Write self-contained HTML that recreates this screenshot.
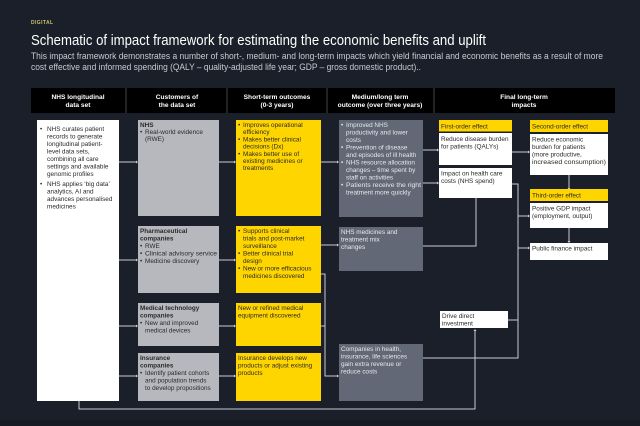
<!DOCTYPE html>
<html><head><meta charset="utf-8"><style>
html,body{margin:0;padding:0;background:#1b1f29;}
svg{display:block;font-family:"Liberation Sans",sans-serif;}
.b{font-size:6.4px;fill:#2a2a2a;}
.w{font-size:6.4px;fill:#e6e8ec;}
.h{font-size:6.6px;fill:#fff;font-weight:bold;text-anchor:middle;}
.bb{font-weight:bold;}
</style></head><body>
<svg width="640" height="426" viewBox="0 0 640 426" xmlns="http://www.w3.org/2000/svg">
<rect width="640" height="426" fill="#1b1f29"/>
<rect x="0" y="420" width="640" height="6" fill="#161a23"/>
<text x="31" y="24" font-size="5" fill="#c9c06a" font-weight="bold" letter-spacing="0.4">DIGITAL</text>
<text x="31" y="45" font-size="15" fill="#fff" textLength="455" lengthAdjust="spacingAndGlyphs">Schematic of impact framework for estimating the economic benefits and uplift</text>
<text x="31" y="59" font-size="9" fill="#c8cad0" textLength="572" lengthAdjust="spacingAndGlyphs">This impact framework demonstrates a number of short-, medium- and long-term impacts which yield financial and economic benefits as a result of more</text>
<text x="31" y="70" font-size="9" fill="#c8cad0" textLength="390" lengthAdjust="spacingAndGlyphs">cost effective and informed spending (QALY – quality-adjusted life year; GDP – gross domestic product)..</text>

<!-- header -->
<rect x="31" y="88" width="584" height="25" fill="#000"/>
<g stroke="#555" stroke-width="0.8"><line x1="126" y1="88" x2="126" y2="113"/><line x1="227" y1="88" x2="227" y2="113"/><line x1="327" y1="88" x2="327" y2="113"/><line x1="434" y1="88" x2="434" y2="113"/></g>
<text class="h" x="78" y="99">NHS longitudinal</text><text class="h" x="78" y="107">data set</text>
<text class="h" x="177" y="99">Customers of</text><text class="h" x="177" y="107">the data set</text>
<text class="h" x="277" y="99">Short-term outcomes</text><text class="h" x="277" y="107">(0-3 years)</text>
<text class="h" x="380" y="99">Medium/long term</text><text class="h" x="380" y="107">outcome (over three years)</text>
<text class="h" x="524" y="99">Final long-term</text><text class="h" x="524" y="107">impacts</text>

<!-- connectors -->
<g stroke="#c8cbd2" stroke-width="1" fill="none">
<line x1="119" y1="162" x2="136" y2="162"/><line x1="119" y1="260" x2="136" y2="260"/><line x1="119" y1="326" x2="136" y2="326"/><line x1="119" y1="376" x2="136" y2="376"/>
<line x1="219" y1="162" x2="234" y2="162"/><line x1="219" y1="260" x2="234" y2="260"/><line x1="219" y1="326" x2="234" y2="326"/><line x1="219" y1="376" x2="234" y2="376"/>
<line x1="320" y1="162" x2="337" y2="162"/><line x1="320" y1="245" x2="337" y2="245"/>
<polyline points="320,274 325,274 325,376 337,376"/><line x1="320" y1="326" x2="325" y2="326"/>
<line x1="423" y1="150" x2="437" y2="150"/><line x1="423" y1="183" x2="437" y2="183"/>
<polyline points="423,246 476,246 476,198"/>
<line x1="512" y1="152" x2="528" y2="152"/>
<line x1="569" y1="175" x2="569" y2="188"/><line x1="569" y1="228" x2="569" y2="241"/>
<polyline points="512,184 518,184 518,358 423,358"/>
<line x1="518" y1="216" x2="528" y2="216"/><line x1="518" y1="248" x2="528" y2="248"/><line x1="508" y1="320" x2="518" y2="320"/>
<polyline points="79,401 79,409 475,409 475,331"/>
</g>
<g fill="#c8cbd2">
<path d="M136,160.5 l2,1.5 l-2,1.5z M136,258.5 l2,1.5 l-2,1.5z M136,324.5 l2,1.5 l-2,1.5z M136,374.5 l2,1.5 l-2,1.5z"/>
<path d="M234,160.5 l2,1.5 l-2,1.5z M234,258.5 l2,1.5 l-2,1.5z M234,324.5 l2,1.5 l-2,1.5z M234,374.5 l2,1.5 l-2,1.5z"/>
<path d="M337,160.5 l2,1.5 l-2,1.5z M337,243.5 l2,1.5 l-2,1.5z M337,374.5 l2,1.5 l-2,1.5z"/>
<path d="M437,148.5 l2,1.5 l-2,1.5z M437,181.5 l2,1.5 l-2,1.5z M528,150.5 l2,1.5 l-2,1.5z M528,214.5 l2,1.5 l-2,1.5z M528,246.5 l2,1.5 l-2,1.5z"/>
<path d="M567.5,188 l1.5,2 l1.5,-2z M567.5,241 l1.5,2 l1.5,-2z M473.5,331 l1.5,-2 l1.5,2z"/>
</g>

<!-- column 1 -->
<rect x="37" y="120" width="82" height="281" fill="#fff"/>
<g class="b">
<text x="40" y="131">•</text><text x="47" y="131">NHS curates patient</text>
<text x="47" y="138.5">records to generate</text><text x="47" y="146">longitudinal patient-</text>
<text x="47" y="153.5">level data sets,</text><text x="47" y="161">combining all care</text>
<text x="47" y="168.5">settings and available</text><text x="47" y="176">genomic profiles</text>
<text x="40" y="186">•</text><text x="47" y="186">NHS applies ‘big data’</text>
<text x="47" y="193.5">analytics, AI and</text><text x="47" y="201">advances personalised</text><text x="47" y="208.5">medicines</text>
</g>

<!-- column 2 -->
<g fill="#b6b8bd"><rect x="138" y="120" width="81" height="96"/><rect x="138" y="226" width="81" height="67"/><rect x="138" y="303" width="81" height="43"/><rect x="138" y="353" width="81" height="48"/></g>
<g class="b">
<text x="140" y="127" class="bb">NHS</text><text x="140" y="134">•</text><text x="145" y="134">Real-world evidence</text><text x="145" y="141">(RWE)</text>
<text x="140" y="233" class="bb">Pharmaceutical</text><text x="140" y="240.5" class="bb">companies</text>
<text x="140" y="248">•</text><text x="145" y="248">RWE</text><text x="140" y="255.5">•</text><text x="145" y="255.5" textLength="72" lengthAdjust="spacingAndGlyphs">Clinical advisory service</text><text x="140" y="263">•</text><text x="145" y="263">Medicine discovery</text>
<text x="140" y="310" class="bb">Medical technology</text><text x="140" y="317.5" class="bb">companies</text>
<text x="140" y="325">•</text><text x="145" y="325">New and improved</text><text x="145" y="332.5">medical devices</text>
<text x="140" y="360" class="bb">Insurance</text><text x="140" y="367.5" class="bb">companies</text>
<text x="140" y="375">•</text><text x="145" y="375">Identify patient cohorts</text><text x="145" y="382.5">and population trends</text><text x="145" y="390">to develop propositions</text>
</g>

<!-- column 3 -->
<g fill="#ffd500"><rect x="236" y="120" width="85" height="96"/><rect x="236" y="226" width="85" height="67"/><rect x="236" y="303" width="85" height="43"/><rect x="236" y="353" width="85" height="48"/></g>
<g class="b">
<text x="238" y="127">•</text><text x="243" y="127">Improves operational</text><text x="243" y="134">efficiency</text>
<text x="238" y="141.5">•</text><text x="243" y="141.5">Makes better clinical</text><text x="243" y="148.5">decisions (Dx)</text>
<text x="238" y="156">•</text><text x="243" y="156">Makes better use of</text><text x="243" y="163">existing medicines or</text><text x="243" y="170">treatments</text>
<text x="238" y="233">•</text><text x="243" y="233">Supports clinical</text><text x="243" y="240.5">trials and post-market</text><text x="243" y="248">surveillance</text>
<text x="238" y="255.5">•</text><text x="243" y="255.5">Better clinical trial</text><text x="243" y="263">design</text>
<text x="238" y="270.5">•</text><text x="243" y="270.5">New or more efficacious</text><text x="243" y="278">medicines discovered</text>
<text x="238" y="310">New or refined medical</text><text x="238" y="317.5">equipment discovered</text>
<text x="238" y="360">Insurance develops new</text><text x="238" y="367.5">products or adjust existing</text><text x="238" y="375">products</text>
</g>

<!-- column 4 -->
<g fill="#626875"><rect x="339" y="120" width="84" height="97"/><rect x="339" y="227" width="84" height="44"/><rect x="339" y="344" width="84" height="57"/></g>
<g class="w">
<text x="341" y="127">•</text><text x="346" y="127">Improved NHS</text><text x="346" y="134.5">productivity and lower</text><text x="346" y="142">costs</text>
<text x="341" y="149.5">•</text><text x="346" y="149.5">Prevention of disease</text><text x="346" y="157">and episodes of ill health</text>
<text x="341" y="164.5">•</text><text x="346" y="164.5">NHS resource allocation</text><text x="346" y="172">changes – time spent by</text><text x="346" y="179.5">staff on activities</text>
<text x="341" y="187">•</text><text x="346" y="187" textLength="75" lengthAdjust="spacingAndGlyphs">Patients receive the right</text><text x="346" y="194.5">treatment more quickly</text>
<text x="341" y="234">NHS medicines and</text><text x="341" y="241.5">treatment mix</text><text x="341" y="249">changes</text>
<text x="341" y="351">Companies in health,</text><text x="341" y="358.5">insurance, life sciences</text><text x="341" y="366">gain extra revenue or</text><text x="341" y="373.5">reduce costs</text>
</g>

<!-- final -->
<g fill="#ffd500"><rect x="439" y="120" width="73" height="11.5"/><rect x="530" y="120" width="78" height="12"/><rect x="530" y="189" width="78" height="12"/></g>
<g fill="#fff"><rect x="439" y="133" width="73" height="32"/><rect x="439" y="168" width="73" height="30"/><rect x="530" y="134" width="78" height="41"/><rect x="530" y="203" width="78" height="25"/><rect x="530" y="243" width="78" height="17"/><rect x="440" y="311" width="68" height="17"/></g>
<g class="b">
<text x="441" y="128.5">First-order effect</text><text x="532" y="128.5">Second-order effect</text><text x="532" y="197.5">Third-order effect</text>
<text x="441" y="141">Reduce disease burden</text><text x="441" y="148.5">for patients (QALYs)</text>
<text x="441" y="175.5">Impact on health care</text><text x="441" y="183">costs (NHS spend)</text>
<text x="532" y="141.5">Reduce economic</text><text x="532" y="149">burden for patients</text><text x="532" y="156.5">(more productive,</text><text x="532" y="164" textLength="74" lengthAdjust="spacingAndGlyphs">increased consumption)</text>
<text x="532" y="210.5">Positive GDP impact</text><text x="532" y="218">(employment, output)</text>
<text x="532" y="250.5">Public finance impact</text>
<text x="442" y="318">Drive direct</text><text x="442" y="325.5">investment</text>
</g>
</svg>
</body></html>
